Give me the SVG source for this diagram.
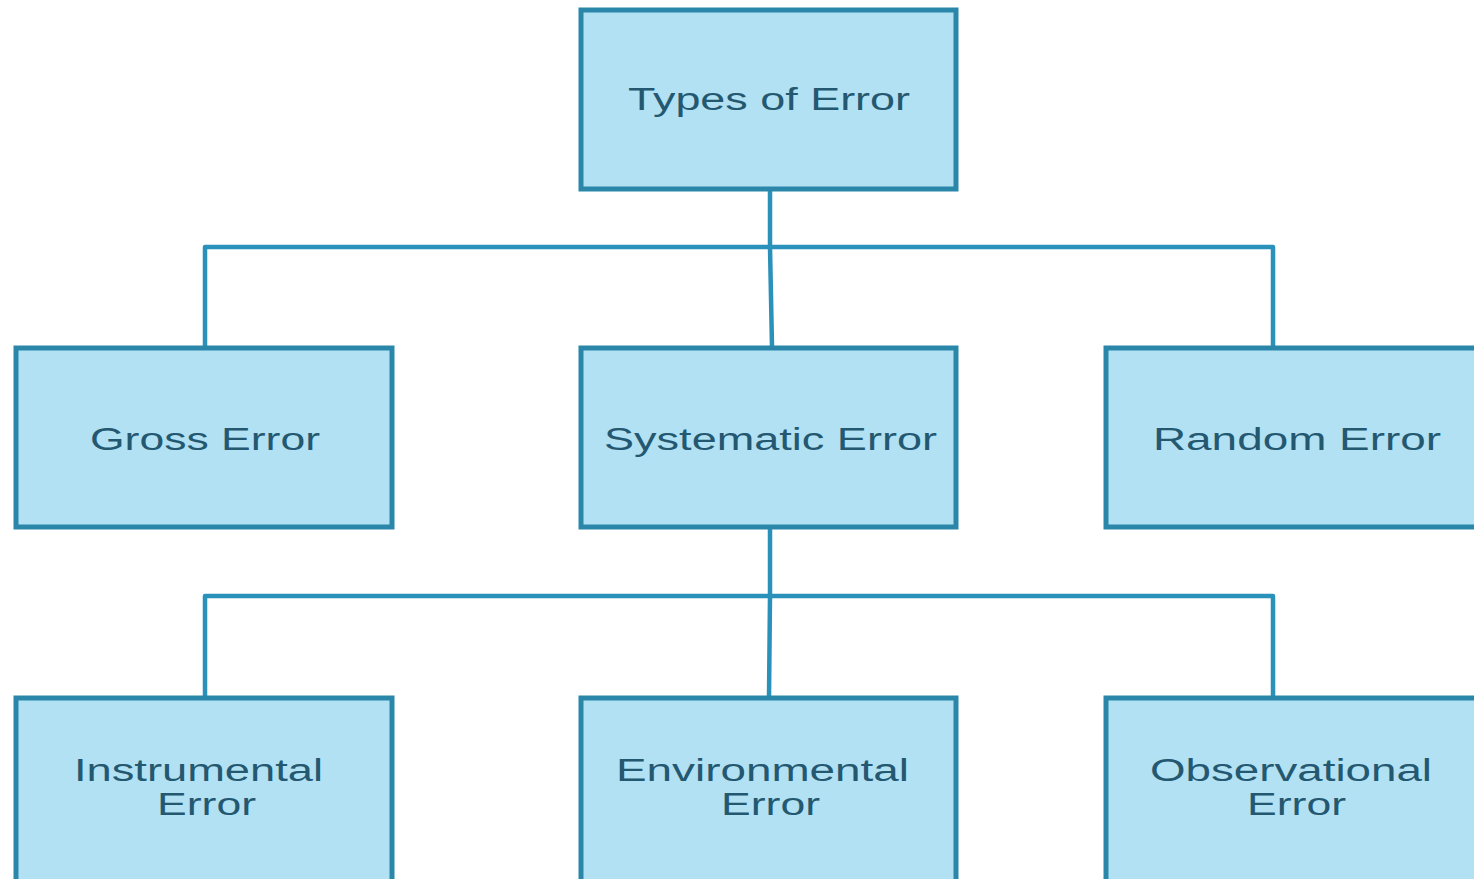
<svg xmlns="http://www.w3.org/2000/svg" width="1474" height="879" viewBox="0 0 1474 879">
  <style>
    .box { fill: #b1e1f3; stroke: #2b87a9; stroke-width: 5; }
    .link { fill: none; stroke: #2a91ba; stroke-width: 4.5; stroke-linejoin: round; }
    .label { font-family: "Liberation Sans", Arial, sans-serif; font-size: 31px; fill: #245870; }
  </style>
  <rect width="1474" height="879" fill="#ffffff"/>

  <!-- tree connectors -->
  <g id="connectors">
    <path class="link" d="M770 190 V247 M205 347 V247 H1273 V347 M770 247 L772 347"/>
    <path class="link" d="M770 528 V596 M205 697 V596 H1273 V697 M770 596 L769 697"/>
  </g>

  <g id="types-of-error">
    <rect class="box" x="581" y="10" width="375" height="179"/>
    <text class="label" x="628" y="110" textLength="282" lengthAdjust="spacingAndGlyphs">Types of Error</text>
  </g>

  <g id="gross-error">
    <rect class="box" x="16" y="348" width="376" height="179"/>
    <text class="label" x="90" y="450" textLength="230" lengthAdjust="spacingAndGlyphs">Gross Error</text>
  </g>

  <g id="systematic-error">
    <rect class="box" x="581" y="348" width="375" height="179"/>
    <text class="label" x="604" y="450" textLength="333" lengthAdjust="spacingAndGlyphs">Systematic Error</text>
  </g>

  <g id="random-error">
    <rect class="box" x="1106" y="348" width="380" height="179"/>
    <text class="label" x="1153" y="450" textLength="288" lengthAdjust="spacingAndGlyphs">Random Error</text>
  </g>

  <g id="instrumental-error">
    <rect class="box" x="16" y="698" width="376" height="190"/>
    <text class="label" x="74" y="781" textLength="249" lengthAdjust="spacingAndGlyphs">Instrumental</text>
    <text class="label" x="157" y="815" textLength="99" lengthAdjust="spacingAndGlyphs">Error</text>
  </g>

  <g id="environmental-error">
    <rect class="box" x="581" y="698" width="375" height="190"/>
    <text class="label" x="616" y="781" textLength="293" lengthAdjust="spacingAndGlyphs">Environmental</text>
    <text class="label" x="721" y="815" textLength="99" lengthAdjust="spacingAndGlyphs">Error</text>
  </g>

  <g id="observational-error">
    <rect class="box" x="1106" y="698" width="380" height="190"/>
    <text class="label" x="1150" y="781" textLength="282" lengthAdjust="spacingAndGlyphs">Observational</text>
    <text class="label" x="1247" y="815" textLength="99" lengthAdjust="spacingAndGlyphs">Error</text>
  </g>
</svg>
